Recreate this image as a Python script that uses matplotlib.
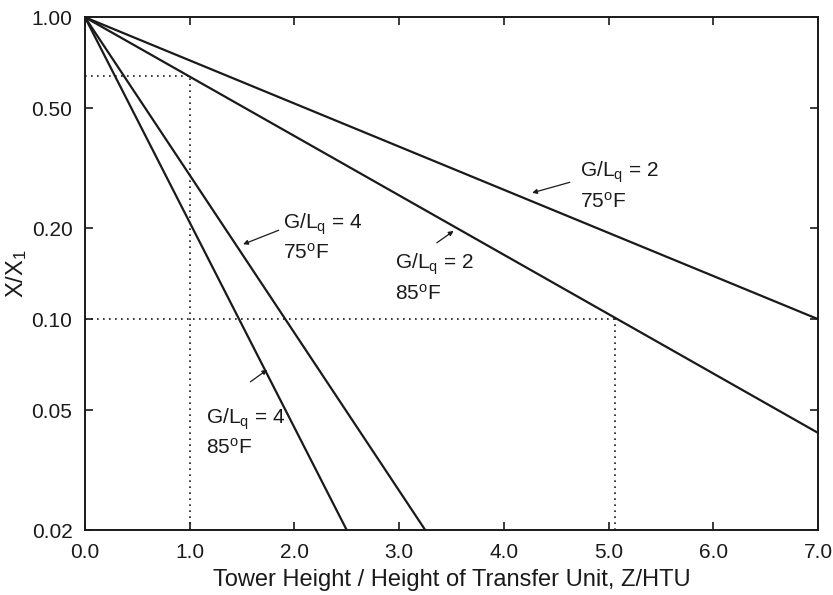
import matplotlib.pyplot as plt
import numpy as np

plt.rcParams['font.family'] = 'Liberation Sans'
plt.rcParams['mathtext.fontset'] = 'custom'
plt.rcParams['mathtext.rm'] = 'Liberation Sans'
plt.rcParams['mathtext.it'] = 'Liberation Sans'

# straight lines on semi-log axes, all start at Z/HTU = 0, X/X1 = 1
z_start = 0.0
ratio_start = 1.0
z_end = [7.0, 7.0, 3.25, 2.5]
ratio_end = [0.10, 0.042, 0.02, 0.02]

# read-off guides (dotted)
z_read = [1.0, 5.06]
ratio_read = [0.638, 0.10]

x_ticks = [0, 1, 2, 3, 4, 5, 6, 7]
y_ticks = [1.0, 0.5, 0.2, 0.1, 0.05, 0.02]
y_ticklabels = ['1.00', '0.50', '0.20', '0.10', '0.05', '0.02']

labels = [r'G/L$_q$ = 2' + '\n' + r'75$^o$F',
          r'G/L$_q$ = 2' + '\n' + r'85$^o$F',
          r'G/L$_q$ = 4' + '\n' + r'75$^o$F',
          r'G/L$_q$ = 4' + '\n' + r'85$^o$F']
arrow_head = [(4.27, 0.262), (3.52, 0.196), (1.51, 0.177), (1.74, 0.068)]
arrow_tail = [(4.63, 0.284), (3.36, 0.179), (1.85, 0.197), (1.58, 0.062)]
text_pos = [(4.73, 0.277), (2.96, 0.137), (1.89, 0.187), (1.16, 0.0422)]

fig = plt.figure(figsize=(8.33, 5.95), dpi=100)
ax = fig.add_axes([0.102, 0.109, 0.880, 0.862])

col = '#1a1a1a'
for i in range(4):
    ax.plot([z_start, z_end[i]], [ratio_start, ratio_end[i]], color=col, lw=1.6,
            solid_capstyle='butt')

for zr, rr in zip(z_read, ratio_read):
    ax.plot([0, zr], [rr, rr], color=col, lw=1.2, linestyle=(0, (1, 2.6)))
    ax.plot([zr, zr], [0.02, rr], color=col, lw=1.2, linestyle=(0, (1, 2.6)))

for i in range(4):
    ax.annotate('', xy=arrow_head[i], xytext=arrow_tail[i],
                arrowprops=dict(arrowstyle='-|>', color=col, lw=0.9,
                                mutation_scale=7, shrinkA=0, shrinkB=0))
    ax.text(text_pos[i][0], text_pos[i][1], labels[i], fontsize=15, color=col,
            va='center', ha='left', linespacing=1.4)

ax.set_yscale('log')
ax.set_xlim(0, 7)
ax.set_ylim(0.02, 1.0)
ax.set_xticks(x_ticks)
ax.set_xticklabels(['%.1f' % v for v in x_ticks])
ax.set_yticks(y_ticks)
ax.set_yticklabels(y_ticklabels)
ax.minorticks_off()
ax.tick_params(direction='in', length=6, width=1.2, top=True, right=True,
               labelsize=15, colors=col, pad=9)
for s in ax.spines.values():
    s.set_linewidth(1.4)
    s.set_color(col)

ax.set_xlabel('Tower Height / Height of Transfer Unit, Z/HTU', fontsize=17, color=col,
              labelpad=5)
ax.set_ylabel(r'X/X$_1$', fontsize=17, color=col, labelpad=2)

plt.savefig('out.png', dpi=100)
